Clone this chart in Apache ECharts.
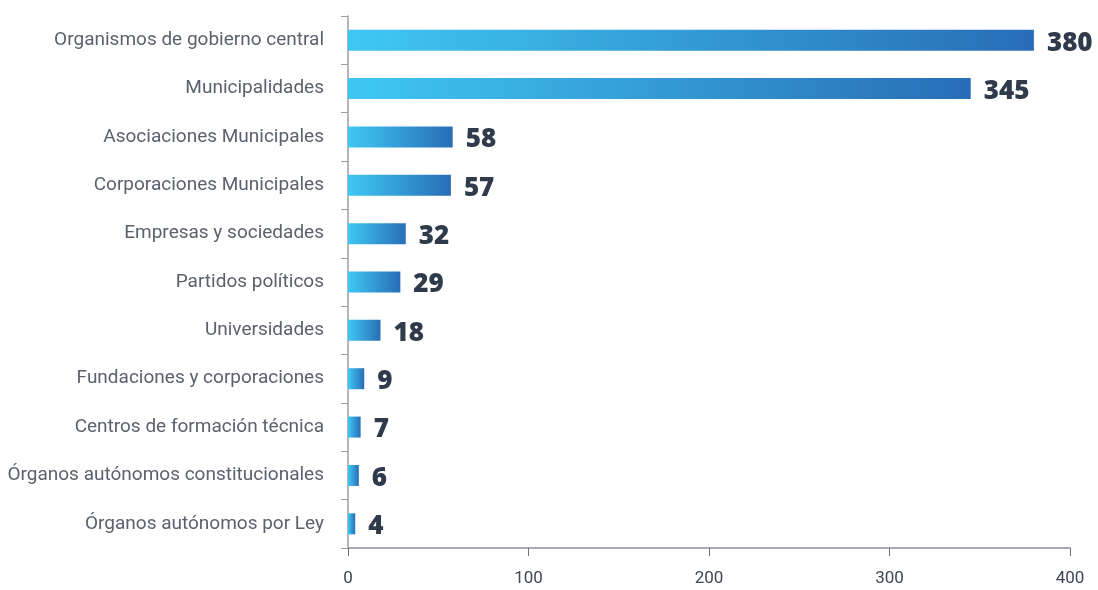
<!DOCTYPE html>
<html><head><meta charset="utf-8">
<script src="https://cdn.jsdelivr.net/npm/echarts@6/dist/echarts.min.js"></script>
<style>html,body{margin:0;padding:0;background:#fff}#c{width:1098px;height:590px}</style>
</head><body><div id="c"></div>
<script>
const categories = ["Organismos de gobierno central","Municipalidades","Asociaciones Municipales","Corporaciones Municipales","Empresas y sociedades","Partidos políticos","Universidades","Fundaciones y corporaciones","Centros de formación técnica","Órganos autónomos constitucionales","Órganos autónomos por Ley"];
const values = [380,345,58,57,32,29,18,9,7,6,4];
const xTicks = [0,100,200,300,400];

const chart = echarts.init(document.getElementById('c'));
chart.setOption({
  animation:false,
  grid:{left:348,right:28,top:16,bottom:42},
  xAxis:{type:'value',min:xTicks[0],max:xTicks[xTicks.length-1],interval:100,
    splitLine:{show:false},
    axisLine:{show:true,lineStyle:{color:'#8a8f98',width:1.5}},
    axisTick:{show:true,length:8,lineStyle:{color:'#6d727b'}},
    axisLabel:{color:'#3e4553',fontSize:17,fontFamily:'Roboto',margin:22}},
  yAxis:{type:'category',data:categories,inverse:true,
    axisLine:{show:true,lineStyle:{color:'#9a9ea6',width:1.5}},
    axisTick:{show:true,length:7,lineStyle:{color:'#9a9ea6'}},
    axisLabel:{color:'#5b616d',fontSize:19,fontFamily:'Roboto',margin:24,padding:[4,0,0,0]}},
  series:[{type:'bar',data:values,barWidth:21,
    itemStyle:{color:new echarts.graphic.LinearGradient(0,0,1,0,[{offset:0,color:'#3fc8f4'},{offset:1,color:'#286db7'}])},
    label:{show:true,position:'right',distance:13,offset:[0,3],color:'#2f3a4a',fontSize:26,fontWeight:800,fontFamily:'Open Sans'}}]
});
</script></body></html>
